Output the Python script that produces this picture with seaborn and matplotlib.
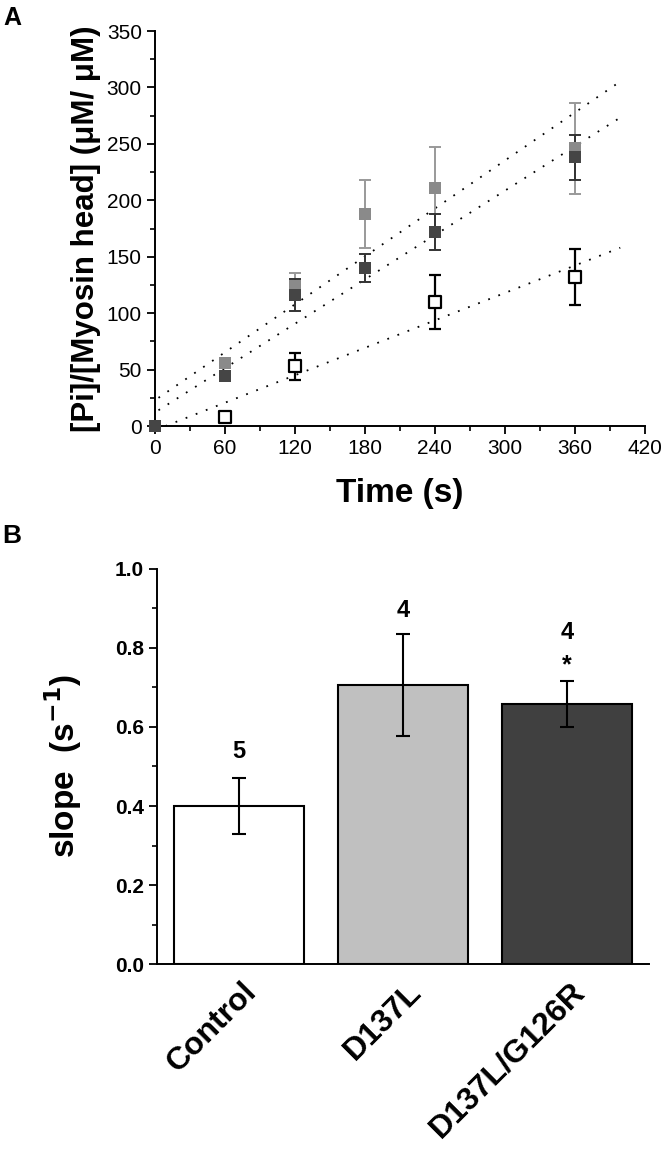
import matplotlib
matplotlib.use('Agg')
import matplotlib.pyplot as plt
import matplotlib.transforms as mtransforms
from matplotlib.ticker import MultipleLocator, FormatStrFormatter
import seaborn as sns
import pandas as pd

# 데이터
time_pts = [0, 60, 120, 180, 240, 360]
d137l_mean = [0, 56, 124, 188, 211, 246]
d137l_err = [0, 4, 12, 30, 36, 40]
dg_mean = [0, 44, 116, 140, 172, 238]
dg_err = [0, 4, 14, 12, 16, 20]
ctrl_time = [60, 120, 240, 360]
ctrl_mean = [8, 53, 110, 132]
ctrl_err = [3, 12, 24, 25]

# 피팅 직선 양 끝점
fit_d137l_t = [3, 400]
fit_d137l_y = [25, 306]
fit_dg_t = [3, 397]
fit_dg_y = [14, 272]
fit_ctrl_t = [9, 399]
fit_ctrl_y = [0, 158]

groups = ['Control', 'D137L', 'D137L/G126R']
slope_mean = [0.40, 0.706, 0.658]
slope_err = [0.071, 0.13, 0.058]
n_labels = ['5', '4', '4']
n_pos = [0.537, 0.896, 0.838]
bar_colors = ['#ffffff', '#c0c0c0', '#404040']

sns.set_style('ticks')
plt.rcParams['font.family'] = ['Liberation Sans', 'DejaVu Sans']
plt.rcParams['axes.linewidth'] = 1.4
for key in ['text.color', 'axes.labelcolor', 'xtick.color', 'ytick.color', 'axes.edgecolor']:
    plt.rcParams[key] = 'black'

fig = plt.figure(figsize=(6.64, 11.49), dpi=100)

# ---- A ----
ax1 = fig.add_axes([0.2334, 0.6292, 0.7376, 0.3438])
light, dark = '#8a8a8a', '#454545'

for t, y in [(fit_d137l_t, fit_d137l_y), (fit_dg_t, fit_dg_y), (fit_ctrl_t, fit_ctrl_y)]:
    sns.lineplot(x=t, y=y, ax=ax1, color='black', linewidth=1.3,
                 linestyle=(0, (1, 5)), zorder=1)

ax1.errorbar(time_pts[1:], d137l_mean[1:], yerr=d137l_err[1:], fmt='none',
             ecolor='#999999', elinewidth=1.4, capsize=4, capthick=1.4, zorder=2)
ax1.errorbar(time_pts[1:], dg_mean[1:], yerr=dg_err[1:], fmt='none',
             ecolor='#333333', elinewidth=1.4, capsize=4, capthick=1.4, zorder=2)
ax1.errorbar(ctrl_time, ctrl_mean, yerr=ctrl_err, fmt='none',
             ecolor='black', elinewidth=1.6, capsize=4, capthick=1.6, zorder=2)

sns.scatterplot(x=time_pts, y=d137l_mean, ax=ax1, marker='s', s=85,
                color=light, edgecolor=light, linewidth=0, zorder=3, clip_on=False)
sns.scatterplot(x=time_pts, y=dg_mean, ax=ax1, marker='s', s=85,
                color=dark, edgecolor=dark, linewidth=0, zorder=3, clip_on=False)
sns.scatterplot(x=ctrl_time, y=ctrl_mean, ax=ax1, marker='s', s=70,
                color='white', edgecolor='black', linewidth=1.6, zorder=4)

ax1.set_xlim(0, 420)
ax1.set_ylim(0, 350)
ax1.xaxis.set_major_locator(MultipleLocator(60))
ax1.xaxis.set_minor_locator(MultipleLocator(30))
ax1.yaxis.set_major_locator(MultipleLocator(50))
ax1.yaxis.set_minor_locator(MultipleLocator(25))
ax1.tick_params(which='major', length=6, width=1.3, labelsize=15)
ax1.tick_params(which='minor', length=3.5, width=1.2)
sns.despine(ax=ax1)
ax1.set_xlabel('Time (s)', fontsize=24, fontweight='bold', labelpad=14)
ax1.set_ylabel('[Pi]/[Myosin head] (μM/ μM)', fontsize=22.5, fontweight='bold', labelpad=4)

fig.text(0.0045, 0.9782, 'A', fontsize=18, fontweight='bold', va='baseline')

# ---- B ----
ax2 = fig.add_axes([0.2364, 0.161, 0.741, 0.3438])
df = pd.DataFrame({'group': groups, 'slope': slope_mean})
sns.barplot(data=df, x='group', y='slope', hue='group', palette=bar_colors,
            edgecolor='black', linewidth=1.5, width=0.79, errorbar=None,
            legend=False, ax=ax2)
ax2.errorbar(range(len(groups)), slope_mean, yerr=slope_err, fmt='none',
             ecolor='black', elinewidth=1.5, capsize=5, capthick=1.5)

for i, (n, yp) in enumerate(zip(n_labels, n_pos)):
    ax2.text(i, yp, n, ha='center', va='center', fontsize=17, fontweight='bold')
ax2.text(2, 0.755, '*', ha='center', va='center', fontsize=18, fontweight='bold')

ax2.set_xlim(-0.5, 2.5)
ax2.set_ylim(0, 1.0)
ax2.yaxis.set_major_locator(MultipleLocator(0.2))
ax2.yaxis.set_minor_locator(MultipleLocator(0.1))
ax2.yaxis.set_major_formatter(FormatStrFormatter('%.1f'))
ax2.tick_params(axis='y', which='major', length=6, width=1.3, labelsize=15)
ax2.tick_params(axis='y', which='minor', length=3.5, width=1.2)
ax2.tick_params(axis='x', length=0, labelsize=23, pad=9)
for lab in ax2.get_yticklabels():
    lab.set_fontweight('bold')
ax2.set_xticks(range(len(groups)))
ax2.set_xticklabels(groups, rotation=45, ha='right', va='top', rotation_mode='anchor',
                    fontweight='bold')
shift = mtransforms.ScaledTranslation(0.03, 0, fig.dpi_scale_trans)
for lab in ax2.get_xticklabels():
    lab.set_transform(lab.get_transform() + shift)
sns.despine(ax=ax2)
ax2.set_xlabel('')
ax2.set_ylabel('slope  (s$^{\\mathbf{-1}}$)', fontsize=24, fontweight='bold', labelpad=22)

fig.text(0.003, 0.5274, 'B', fontsize=19, fontweight='bold', va='baseline')

fig.savefig('out.png', dpi=100)
